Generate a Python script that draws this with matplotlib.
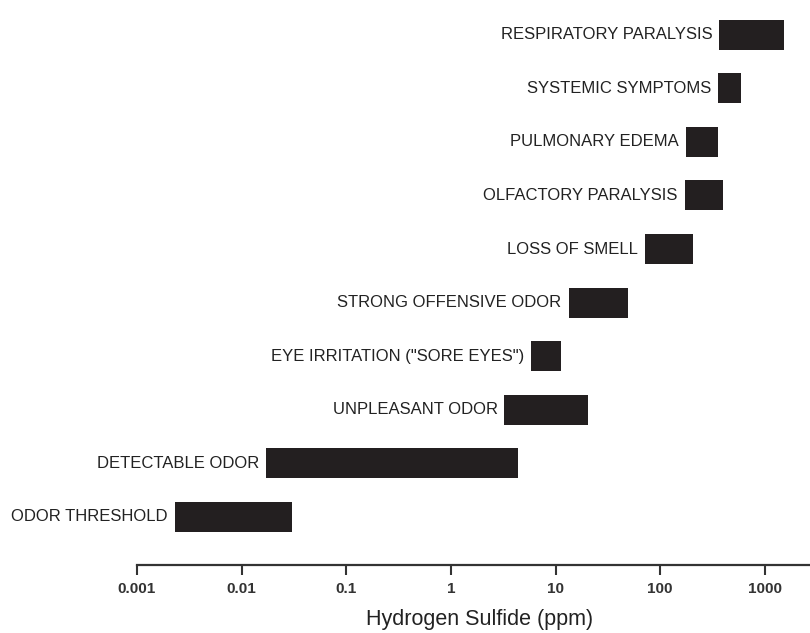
import numpy as np
import matplotlib
matplotlib.use("Agg")
import matplotlib.pyplot as plt
import matplotlib.ticker as mticker

plt.rcParams["font.family"] = ["Liberation Sans", "DejaVu Sans"]

# effects, bottom to top, with the concentration range (ppm) of each
effects = [
    "ODOR THRESHOLD",
    "DETECTABLE ODOR",
    "UNPLEASANT ODOR",
    'EYE IRRITATION ("SORE EYES")',
    "STRONG OFFENSIVE ODOR",
    "LOSS OF SMELL",
    "OLFACTORY PARALYSIS",
    "PULMONARY EDEMA",
    "SYSTEMIC SYMPTOMS",
    "RESPIRATORY PARALYSIS",
]
low_ppm = [0.0023, 0.017, 3.25, 5.8, 13.3, 71, 171, 177, 357, 366]
high_ppm = [0.030, 4.4, 20.2, 11.2, 49, 205, 396, 355, 598, 1520]

tick_values = [0.001, 0.01, 0.1, 1, 10, 100, 1000]
tick_labels = ["0.001", "0.01", "0.1", "1", "10", "100", "1000"]

BAR = "#231f20"
TEXT = "#222222"

fig = plt.figure(figsize=(8.10, 6.33), dpi=100)
ax = fig.add_axes([137 / 810, 1 - 565 / 633, 673 / 810, 565 / 633])

ys = np.arange(len(effects))
lows = np.array(low_ppm)
highs = np.array(high_ppm)
ax.barh(ys, highs - lows, left=lows, height=0.56, color=BAR, edgecolor="none")

for y, lo, name in zip(ys, lows, effects):
    ax.annotate(name, xy=(lo, y), xytext=(-5, 0), textcoords="offset points",
                ha="right", va="center", fontsize=12, color=TEXT)

ax.set_xscale("log")
ax.set_xlim(0.001, 2700)
ax.set_ylim(-0.9, 9.65)

ax.xaxis.set_major_locator(mticker.FixedLocator(tick_values))
ax.xaxis.set_minor_locator(mticker.NullLocator())
ax.set_xticks(tick_values)
ax.set_xticklabels(tick_labels, fontsize=11, fontweight="bold", color=TEXT)
ax.tick_params(axis="x", direction="out", length=7, width=1.5, pad=5, colors="#333333")
ax.set_yticks([])

for side in ["top", "right", "left"]:
    ax.spines[side].set_visible(False)
ax.spines["bottom"].set_linewidth(1.6)
ax.spines["bottom"].set_color("#333333")

ax.set_xlabel("Hydrogen Sulfide (ppm)", fontsize=15.5, color=TEXT, va="center")
ax.xaxis.set_label_coords((480 - 137) / 673, -(620 - 565) / 565)

fig.savefig("out.png", dpi=100, facecolor="white")
